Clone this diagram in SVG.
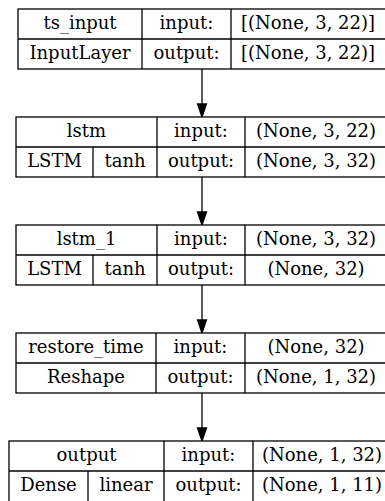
<svg xmlns="http://www.w3.org/2000/svg" width="385" height="501" viewBox="0 0 385 501">
<style>
  .b { fill: #fff; stroke: #000; stroke-width: 1.3; }
  .l { stroke: #000; stroke-width: 1.3; fill: none; }
  text { font-family: "DejaVu Serif", serif; font-size: 18px; fill: #000; text-anchor: middle; }
  .e { stroke: #000; stroke-width: 1.3; fill: none; }
  .h { fill: #000; stroke: #000; stroke-width: 1.3; }
</style>
<rect width="385" height="501" fill="#fff"/>
<g id="connectors">
  <line class="e" x1="202" y1="69" x2="202" y2="104"/>
  <polygon class="h" points="197.5,104 206.5,104 202,117"/>
  <line class="e" x1="202" y1="177" x2="202" y2="212"/>
  <polygon class="h" points="197.5,212 206.5,212 202,225"/>
  <line class="e" x1="202" y1="285" x2="202" y2="320"/>
  <polygon class="h" points="197.5,320 206.5,320 202,333"/>
  <line class="e" x1="202" y1="393" x2="202" y2="428"/>
  <polygon class="h" points="197.5,428 206.5,428 202,441"/>
</g>
<g id="ts_input">
  <rect class="b" x="18" y="9" width="380" height="60"/>
  <line class="l" x1="18" y1="39" x2="398" y2="39"/>
  <line class="l" x1="142" y1="9" x2="142" y2="69"/>
  <line class="l" x1="231" y1="9" x2="231" y2="69"/>
  <text x="80" y="28.5">ts_input</text>
  <text x="186.5" y="28.5">input:</text>
  <text x="308" y="28.5">[(None, 3, 22)]</text>
  <text x="80" y="58.5">InputLayer</text>
  <text x="186.5" y="58.5">output:</text>
  <text x="308" y="58.5">[(None, 3, 22)]</text>
</g>
<g id="lstm">
  <rect class="b" x="16" y="117" width="380" height="60"/>
  <line class="l" x1="16" y1="147" x2="396" y2="147"/>
  <line class="l" x1="93" y1="147" x2="93" y2="177"/>
  <line class="l" x1="157" y1="117" x2="157" y2="177"/>
  <line class="l" x1="245" y1="117" x2="245" y2="177"/>
  <text x="86.5" y="136.5">lstm</text>
  <text x="201" y="136.5">input:</text>
  <text x="316" y="136.5">(None, 3, 22)</text>
  <text x="54.5" y="166.5">LSTM</text>
  <text x="125" y="166.5">tanh</text>
  <text x="201" y="166.5">output:</text>
  <text x="316" y="166.5">(None, 3, 32)</text>
</g>
<g id="lstm_1">
  <rect class="b" x="16" y="225" width="380" height="60"/>
  <line class="l" x1="16" y1="255" x2="396" y2="255"/>
  <line class="l" x1="93" y1="255" x2="93" y2="285"/>
  <line class="l" x1="157" y1="225" x2="157" y2="285"/>
  <line class="l" x1="245" y1="225" x2="245" y2="285"/>
  <text x="86.5" y="244.5">lstm_1</text>
  <text x="201" y="244.5">input:</text>
  <text x="316" y="244.5">(None, 3, 32)</text>
  <text x="54.5" y="274.5">LSTM</text>
  <text x="125" y="274.5">tanh</text>
  <text x="201" y="274.5">output:</text>
  <text x="316" y="274.5">(None, 32)</text>
</g>
<g id="restore_time">
  <rect class="b" x="16" y="333" width="380" height="60"/>
  <line class="l" x1="16" y1="363" x2="396" y2="363"/>
  <line class="l" x1="156" y1="333" x2="156" y2="393"/>
  <line class="l" x1="245" y1="333" x2="245" y2="393"/>
  <text x="86" y="352.5">restore_time</text>
  <text x="200.5" y="352.5">input:</text>
  <text x="316" y="352.5">(None, 32)</text>
  <text x="86" y="382.5">Reshape</text>
  <text x="200.5" y="382.5">output:</text>
  <text x="316" y="382.5">(None, 1, 32)</text>
</g>
<g id="output">
  <rect class="b" x="9" y="441" width="390" height="70"/>
  <line class="l" x1="9" y1="471" x2="399" y2="471"/>
  <line class="l" x1="88" y1="471" x2="88" y2="511"/>
  <line class="l" x1="164" y1="441" x2="164" y2="511"/>
  <line class="l" x1="253" y1="441" x2="253" y2="511"/>
  <text x="86.5" y="460.5">output</text>
  <text x="208.5" y="460.5">input:</text>
  <text x="322" y="460.5">(None, 1, 32)</text>
  <text x="48.5" y="490.5">Dense</text>
  <text x="126" y="490.5">linear</text>
  <text x="208.5" y="490.5">output:</text>
  <text x="322" y="490.5">(None, 1, 11)</text>
</g>
</svg>
